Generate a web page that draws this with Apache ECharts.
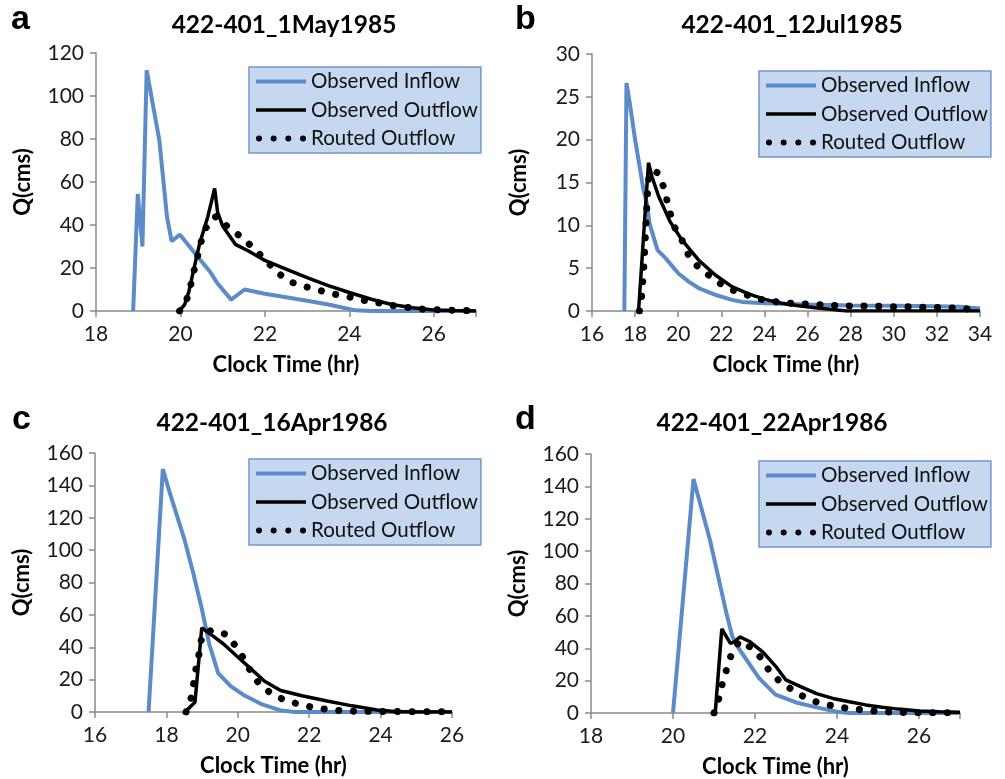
<!DOCTYPE html>
<html>
<head>
<meta charset="utf-8">
<script src="https://cdn.jsdelivr.net/npm/echarts@6/dist/echarts.min.js"></script>
<style>html,body{margin:0;padding:0;background:#fff}#c{width:1005px;height:779px}</style>
</head>
<body>
<div id="c"></div>
<script>
// ---------- DATA ----------
const seriesNames = ['Observed Inflow', 'Observed Outflow', 'Routed Outflow'];
const panelLetters = ['a', 'b', 'c', 'd'];
const panelTitles = ['422-401_1May1985', '422-401_12Jul1985', '422-401_16Apr1986', '422-401_22Apr1986'];
const xRanges = [[18, 27, 2], [16, 34, 2], [16, 26, 2], [18, 27, 2]];
const yRanges = [[0, 120, 20], [0, 30, 5], [0, 160, 20], [0, 160, 20]];

// Panel a : 1 May 1985
const aInflow = [[18.88,0],[18.99,54.5],[19.1,30],[19.2,112],[19.5,79.5],[19.68,44],[19.79,32.5],[19.99,35.5],[20.4,25.5],[20.71,18],[20.87,13],[21.2,5.3],[21.52,10],[22,8],[22.5,6.4],[23,4.8],[23.5,3],[24.15,0.3],[24.5,0],[27,0]];
const aOutflow = [[19.97,0],[20.1,3],[20.2,9],[20.3,18],[20.45,31],[20.65,44],[20.81,57],[20.88,46],[21.0,39.5],[21.3,31],[21.6,28],[22.0,23.5],[22.5,19.5],[23.0,15.5],[23.5,11.8],[24.0,8.6],[24.5,5.6],[25.0,3],[25.5,1.5],[26.0,0.5],[26.5,0.2],[27,0]];
const aRouted = [[19.98,0],[20.1,3],[20.2,8],[20.3,17],[20.4,25],[20.5,33],[20.6,38.5],[20.75,43],[20.85,44],[21.0,41],[21.3,36.6],[21.57,32.2],[21.83,27.3],[22.05,23],[22.3,17.8],[22.6,13.6],[22.9,11.6],[23.25,9.8],[23.6,8],[23.95,6.8],[24.3,5.1],[24.67,3.9],[25.0,2.6],[25.35,1.7],[25.7,0.9],[26.05,0.6],[26.5,0.3],[27,0.1]];

// Panel b : 12 Jul 1985
const bInflow = [[17.5,0],[17.6,26.6],[17.75,24.3],[18.0,20],[18.2,17],[18.39,14.1],[18.55,12.5],[18.67,10.2],[19.04,7.1],[19.4,6.2],[20.0,4.4],[20.5,3.4],[21.0,2.6],[21.7,1.9],[22.5,1.3],[23.0,1.05],[24,0.9],[26,0.75],[28,0.65],[30,0.6],[32,0.55],[33,0.5],[34,0.3]];
const bOutflow = [[18.16,0],[18.62,17.3],[18.78,15.7],[19.09,13.4],[19.63,10.4],[20.17,8.3],[20.94,5.96],[21.72,4.2],[22.49,2.84],[23.26,2.0],[24.03,1.36],[24.8,0.9],[25.58,0.62],[26.35,0.39],[27.05,0.2],[27.8,0],[34,0]];
const bRouted = [[18.2,0],[18.3,1.7],[18.4,5],[18.5,10],[18.6,15],[18.7,16.2],[18.85,16.4],[19.06,16.1],[19.32,14.5],[19.48,12.9],[19.78,10],[20.17,8.3],[20.48,6.5],[20.87,5.3],[21.41,4.2],[21.95,3.2],[22.52,2.45],[23.19,1.87],[23.84,1.36],[24.5,1.09],[25.16,0.9],[25.81,0.82],[26.5,0.74],[27.15,0.66],[27.82,0.6],[28.52,0.58],[29.21,0.55],[29.88,0.5],[30.52,0.5],[31.19,0.45],[31.84,0.43],[32.53,0.38],[33.2,0.3],[33.88,0.12]];

// Panel c : 16 Apr 1986
const cInflow = [[17.5,0],[17.9,150],[18.1,135],[18.5,107],[18.75,86],[19.0,63],[19.2,42],[19.45,24],[19.8,16],[20.2,10],[20.7,4.5],[21.2,1],[21.6,0],[26,0]];
const cOutflow = [[18.52,0],[18.8,6],[18.9,30],[18.99,52],[19.3,47],[19.6,42],[20.0,34],[20.4,26],[20.75,19],[21.2,13.3],[21.8,10],[22.5,6.8],[23.2,3.8],[23.9,1.2],[24.4,0.3],[25,0],[26,0]];
const cRouted = [[18.55,0],[18.62,3.5],[18.69,8.6],[18.76,17],[18.82,26],[18.9,34],[18.97,44],[19.05,49],[19.3,50.5],[19.67,48],[19.93,41],[20.16,33.3],[20.35,25.5],[20.58,18],[20.9,12],[21.25,8],[21.63,5.3],[22.03,3.2],[22.45,1.8],[22.85,0.9],[23.25,0.5],[24,0.3],[25,0.2],[26,0.1]];

// Panel d : 22 Apr 1986
const dInflow = [[20.0,0],[20.5,144.5],[20.9,107],[21.3,62],[21.45,47],[21.6,40],[22.1,21.5],[22.5,11.3],[23.0,6.5],[23.5,3.5],[24,0.8],[24.3,0],[27,0]];
const dOutflow = [[21.03,0],[21.19,52],[21.4,43],[21.5,44],[21.63,47],[21.88,44],[22.2,37.5],[22.5,29],[22.75,20.5],[23.1,16.5],[23.5,12],[23.9,9],[24.3,7],[24.7,5],[25.1,3.5],[25.5,2.4],[26,1.3],[26.5,0.8],[27,0.5]];
const dRouted = [[21.0,0],[21.11,8],[21.19,17],[21.29,25.5],[21.39,34],[21.5,40],[21.63,44.5],[21.75,43],[21.92,40],[22.15,34],[22.35,26],[22.6,19.6],[22.87,15],[23.16,10.5],[23.5,6.8],[23.83,4.8],[24.2,3.1],[24.55,2.1],[24.92,1.2],[25.3,0.6],[25.6,0.3],[26,0.2],[27,0.1]];

const inflows = [aInflow, bInflow, cInflow, dInflow];
const outflows = [aOutflow, bOutflow, cOutflow, dOutflow];
const routeds = [aRouted, bRouted, cRouted, dRouted];

// ---------- LAYOUT / STYLE ----------
const FONT = 'Lato';
const BLUE = '#5b8bc9';
const AXIS = '#8a8a8a';
const grids = [
  {left: 96, top: 53, width: 380, height: 258},
  {left: 592, top: 54, width: 388, height: 257},
  {left: 95, top: 453, width: 357, height: 259},
  {left: 591, top: 454, width: 369, height: 259}
];
const letterPos = [[11, 20], [515, 20], [12, 420], [515, 420]];
const titlePos = [[284, 25], [792, 25], [272, 423], [772, 423]];
const legendPos = [[249, 67], [759, 71], [249, 459], [759, 461]];

const iconBlue = 'path://M0,0M50,6M0,1.0H50V5.0H0Z';
const iconBlack = 'path://M0,0M50,6M0,1.25H50V4.75H0Z';
const iconDots = 'path://M0,3a3,3 0 1,0 6,0a3,3 0 1,0 -6,0Z M14.67,3a3,3 0 1,0 6,0a3,3 0 1,0 -6,0Z M29.33,3a3,3 0 1,0 6,0a3,3 0 1,0 -6,0Z M44,3a3,3 0 1,0 6,0a3,3 0 1,0 -6,0Z';

const xAxes = [], yAxes = [], series = [], legends = [], graphics = [];
grids.forEach((g, i) => {
  xAxes.push({
    type: 'value', gridIndex: i, min: xRanges[i][0], max: xRanges[i][1], interval: xRanges[i][2],
    name: 'Clock Time (hr)', nameLocation: 'middle', nameGap: 43,
    nameTextStyle: {fontFamily: FONT, fontWeight: 'bold', fontSize: 22, color: '#000'},
    axisLine: {show: true, onZero: false, lineStyle: {color: AXIS, width: 1.5}},
    axisTick: {show: true, length: 6, lineStyle: {color: AXIS, width: 1.5}},
    splitLine: {show: false},
    axisLabel: {fontFamily: FONT, fontSize: 21, color: '#1a1a1a', margin: 13,
      formatter: v => (Math.abs(v % xRanges[i][2]) < 1e-9 ? String(v) : '')}
  });
  yAxes.push({
    type: 'value', gridIndex: i, min: yRanges[i][0], max: yRanges[i][1], interval: yRanges[i][2],
    name: 'Q(cms)', nameLocation: 'middle', nameGap: 62,
    nameTextStyle: {fontFamily: FONT, fontWeight: 'bold', fontSize: 22, color: '#000'},
    axisLine: {show: true, lineStyle: {color: AXIS, width: 1.5}},
    axisTick: {show: true, length: 6, lineStyle: {color: AXIS, width: 1.5}},
    splitLine: {show: false},
    axisLabel: {fontFamily: FONT, fontSize: 21, color: '#1a1a1a', margin: 12}
  });
  series.push({
    name: seriesNames[0], type: 'line', xAxisIndex: i, yAxisIndex: i, data: inflows[i],
    symbol: 'none', color: BLUE, lineStyle: {color: BLUE, width: 4}, z: 2, animation: false
  });
  series.push({
    name: seriesNames[1], type: 'line', xAxisIndex: i, yAxisIndex: i, data: outflows[i],
    symbol: 'none', color: '#000', lineStyle: {color: '#000', width: 3.5}, z: 3, animation: false
  });
  series.push({
    name: seriesNames[2], type: 'line', xAxisIndex: i, yAxisIndex: i, data: routeds[i],
    symbol: 'none', color: '#000',
    lineStyle: {color: '#000', width: 7, type: [0.1, 14.6], cap: 'round', join: 'round'},
    z: 4, animation: false
  });
  legends.push({
    left: legendPos[i][0], top: legendPos[i][1], orient: 'vertical',
    itemWidth: 50, itemHeight: 6, itemGap: 6.5, padding: [3.5, 3, 3.5, 7],
    backgroundColor: '#c6d8f0', borderColor: '#7396cb', borderWidth: 1.5, borderRadius: 0,
    selectedMode: false,
    itemStyle: {borderWidth: 0},
    textStyle: {fontFamily: FONT, fontSize: 20.5, color: '#111', lineHeight: 22},
    data: [
      {name: seriesNames[0], icon: iconBlue},
      {name: seriesNames[1], icon: iconBlack},
      {name: seriesNames[2], icon: iconDots}
    ]
  });
  graphics.push({
    type: 'text', x: letterPos[i][0], y: letterPos[i][1],
    style: {text: panelLetters[i], fontFamily: 'Liberation Sans', fontWeight: 'bold', fontSize: 34, fill: '#000',
      align: 'left', verticalAlign: 'middle'}
  });
  graphics.push({
    type: 'text', x: titlePos[i][0], y: titlePos[i][1],
    style: {text: panelTitles[i], fontFamily: FONT, fontWeight: 'bold', fontSize: 24.5, fill: '#000',
      align: 'center', verticalAlign: 'middle'}
  });
});

const chart = echarts.init(document.getElementById('c'), null, {renderer: 'canvas'});
chart.setOption({
  animation: false,
  backgroundColor: '#fff',
  grid: grids,
  xAxis: xAxes,
  yAxis: yAxes,
  series: series,
  legend: legends,
  graphic: graphics
});
</script>
</body>
</html>
